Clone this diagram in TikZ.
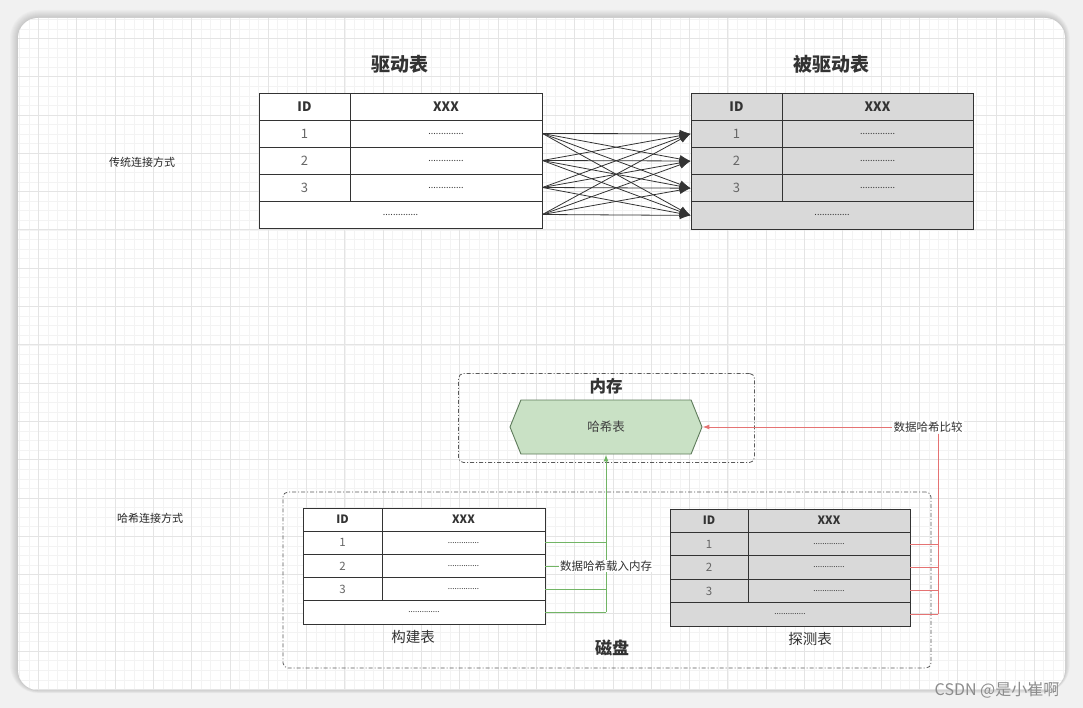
\documentclass[tikz,border=0pt]{standalone}
\usepackage{fontspec}
\setmainfont{Noto Sans CJK SC}
\usetikzlibrary{arrows.meta,shapes.symbols}

\definecolor{linegray}{HTML}{333333}
\definecolor{tabgray}{HTML}{D9D9D9}
\definecolor{hashgreen}{HTML}{C9E1C5}
\definecolor{hashedge}{HTML}{5E7B5B}
\definecolor{loadgreen}{HTML}{72B565}
\definecolor{cmpred}{HTML}{E57373}
\definecolor{gridgray}{HTML}{E4E4E4}
\definecolor{bgout}{HTML}{F1F1F1}

\tikzset{
  cell/.style={draw=linegray, line width=0.9pt, inner sep=0pt, text=black!80},
  title/.style={font=\fontsize{19}{21}\bfseries, text=black!80},
  side/.style={font=\fontsize{11}{12}\selectfont, text=black!85},
  frame/.style={draw=black!65, line width=0.8pt, dash pattern=on 4pt off 2pt on 1pt off 2pt, rounded corners=5pt},
  hashnode/.style={signal, signal to=east and west, signal pointer angle=136,
    draw=hashedge, fill=hashgreen, line width=0.9pt, minimum width=192, minimum height=54,
    inner sep=0pt, font=\fontsize{12.5}{14}\selectfont, text=black!75},
  tag/.style={fill=white, inner sep=1pt, font=\fontsize{11.5}{13}\selectfont, text=black!80},
  joinline/.style={->, draw=linegray, line width=0.8pt, >={Latex[length=11pt,width=8pt]}},
  loadline/.style={draw=loadgreen, line width=1pt, >={Latex[length=7pt,width=5pt]}},
  cmpline/.style={draw=cmpred, line width=1pt, >={Latex[length=7pt,width=5pt]}},
  wmark/.style={font=\fontsize{16}{18}\selectfont, text=black!45}
}

\newcommand{\dotrow}{..............}
% #1 name, #2 x0, #3 y0, #4 ID width, #5 XXX width, #6 row height, #7 fill, #8 font size, #9 dots size
\newcommand{\dbtable}[9]{%
  \node[cell, fill=#7, font=\fontsize{#8}{#8}\bfseries, minimum width=#4, minimum height=#6]
    (#1id0) at ({#2+#4/2},{#3+0.5*#6}) {ID};
  \node[cell, fill=#7, font=\fontsize{#8}{#8}\bfseries, minimum width=#5, minimum height=#6]
    (#1x0) at ({#2+#4+#5/2},{#3+0.5*#6}) {XXX};
  \foreach \i in {1,2,3} {
    \node[cell, fill=#7, font=\fontsize{#8}{#8}\selectfont, text=black!60, minimum width=#4, minimum height=#6]
      (#1id\i) at ({#2+#4/2},{#3+(\i+0.5)*#6}) {\i};
    \node[cell, fill=#7, font=\fontsize{#9}{#9}\selectfont, minimum width=#5, minimum height=#6]
      (#1x\i) at ({#2+#4+#5/2},{#3+(\i+0.5)*#6}) {\dotrow};
  }
  \node[cell, fill=#7, font=\fontsize{#9}{#9}\selectfont, minimum width=#4+#5, minimum height=#6]
    (#1last) at ({#2+(#4+#5)/2},{#3+4.5*#6}) {\dotrow};
}

\begin{document}
\begin{tikzpicture}[x=1pt, y=-1pt]
    \useasboundingbox (0,0) rectangle (1083,708);

    % Фон и карточка
    \fill[bgout] (0,0) rectangle (1083,708);
    \foreach \k in {1,...,8}
        \fill[black, opacity=0.018, rounded corners=20+\k] (18-\k, 18-\k) rectangle (1065+\k*0.6, 690+\k*0.4);
    \fill[white, rounded corners=20] (18,18) rectangle (1065,690);
    \begin{scope}
        \clip[rounded corners=20] (18,18) rectangle (1065,690);
        \draw[gridgray!45, line width=0.4pt, xstep=9.575pt, ystep=9.575pt] (18,18) grid (1065,690);
        \draw[gridgray, line width=0.6pt, xstep=38.3pt, ystep=38.3pt] (18,18) grid (1065,690);
    \end{scope}

    % Традиционное соединение
    \node[side] (tradlbl) at (142,162) {传统连接方式};
    \node[title] (drvtitle) at (400,64) {驱动表};
    \node[title] (inntitle) at (831,64) {被驱动表};
    \dbtable{drv}{259}{93}{91}{192}{27}{white}{13}{9}
    \dbtable{inn}{691}{93}{91}{191}{27.2}{tabgray}{13}{9}

    % Каждая строка -> каждая строка
    \foreach \s in {drvx1,drvx2,drvx3,drvlast}
        \foreach \t in {innid1,innid2,innid3,innlast}
            \draw[joinline] (\s.east) -- (\t.west);

    % Хеш-соединение
    \node[side] (hashlbl) at (150,518) {哈希连接方式};

    % Память
    \node[frame, minimum width=296, minimum height=89] (mem) at (606.5,418) {};
    \node[font=\fontsize{16.5}{18}\bfseries, text=black!80] (memlbl) at (606,386) {内存};
    \node[hashnode] (hash) at (606,427) {哈希表};

    % Диск
    \node[frame, minimum width=648, minimum height=176] (disk) at (607,580) {};
    \node[font=\fontsize{17}{19}\bfseries, text=black!80] (disklbl) at (612,648) {磁盘};
    \dbtable{bld}{303}{508}{79}{163}{23.2}{white}{11.5}{8}
    \dbtable{prb}{670}{509}{78}{162}{23.4}{tabgray}{11.5}{8}
    \node[font=\fontsize{14.5}{16}\selectfont, text=black!80] (bldlbl) at (413,637) {构建表};
    \node[font=\fontsize{14.5}{16}\selectfont, text=black!80] (prblbl) at (810,639) {探测表};

    % Загрузка в память (зелёный)
    \coordinate (gtrunk) at (hash.south |- bldlast.east);
    \foreach \r in {bldx1,bldx2,bldx3,bldlast}
        \draw[loadline] (\r.east) -- (\r.east -| gtrunk);
    \draw[loadline, ->] (gtrunk) -- (hash.south);
    \node[tag] (load) at (hash.south |- bldx2.east) {数据哈希载入内存};

    % Сравнение (красный)
    \node[tag] (cmp) at (928,427) {数据哈希比较};
    \path (prblast.east) ++(28,0) coordinate (rtrunk);
    \foreach \r in {prbx1,prbx2,prbx3,prblast}
        \draw[cmpline] (\r.east) -- (\r.east -| rtrunk);
    \draw[cmpline] (rtrunk) -- (rtrunk |- cmp.south);
    \draw[cmpline, ->] (cmp.west) -- (hash.east);

    \node[wmark] (csdn) at (997,690) {CSDN @是小崔啊};
\end{tikzpicture}
\end{document}
